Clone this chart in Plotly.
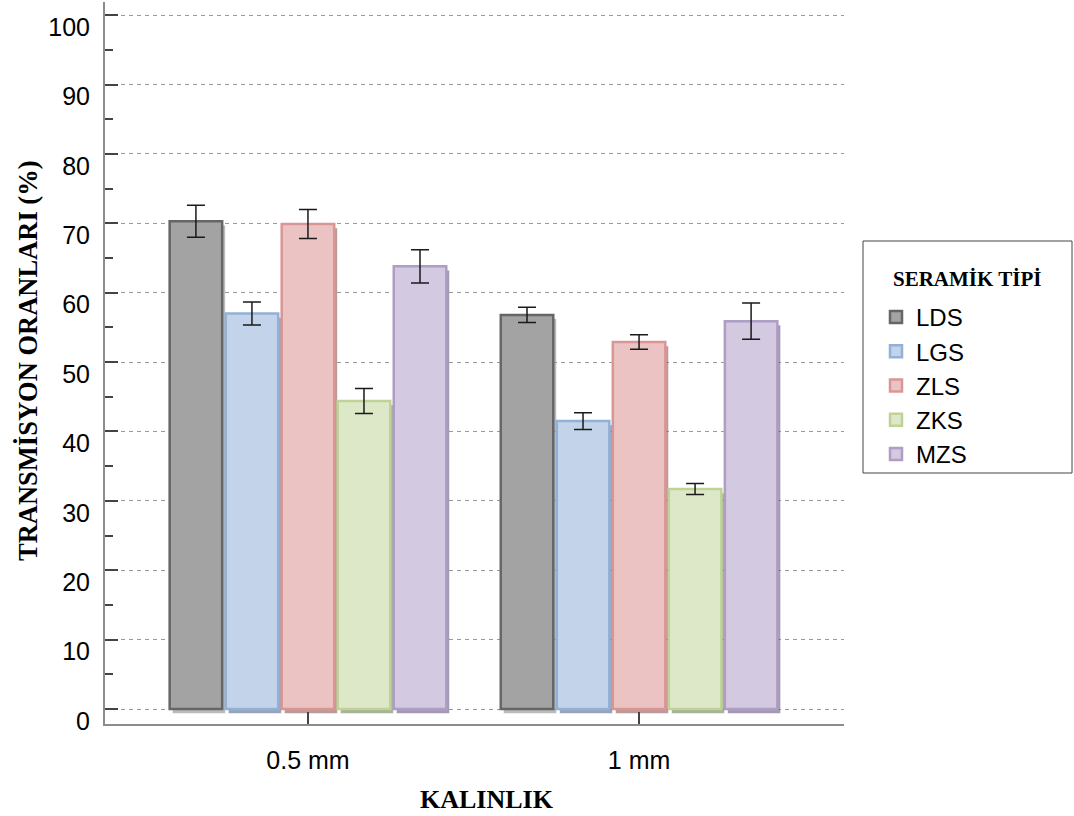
import plotly.graph_objects as go

# ---- data ----
categories = ["0.5 mm", "1 mm"]
series_names = ["LDS", "LGS", "ZLS", "ZKS", "MZS"]
LDS = [70.3, 56.8]
LGS = [57.0, 41.5]
ZLS = [69.9, 52.9]
ZKS = [44.4, 31.7]
MZS = [63.8, 55.9]
LDS_err = [2.3, 1.1]
LGS_err = [1.65, 1.2]
ZLS_err = [2.1, 1.05]
ZKS_err = [1.8, 0.8]
MZS_err = [2.4, 2.6]
y_ticks = [0, 10, 20, 30, 40, 50, 60, 70, 80, 90, 100]

values = [LDS, LGS, ZLS, ZKS, MZS]
errors = [LDS_err, LGS_err, ZLS_err, ZKS_err, MZS_err]

fills = ["#a3a3a3", "#c3d4ea", "#ebc3c2", "#dde8c8", "#d3c9e0"]
borders = ["#666666", "#93b1d6", "#d99694", "#bfd396", "#ae9dc4"]
shadows = ["rgba(150,150,150,0.65)", "rgba(95,115,150,0.65)", "rgba(150,100,100,0.65)",
           "rgba(120,140,95,0.65)", "rgba(115,100,140,0.65)"]

# geometry (data units)
x_pos = list(range(len(categories)))
slot = 0.1692
bar_w = 0.1586
sh_dx = 0.009   # shadow shift (~3 px)
sh_dy = 0.6     # shadow drop (~4 px)

fig = go.Figure()

# shadows first
for i, (name, vals) in enumerate(zip(series_names, values)):
    off = -2.5 * slot + i * slot + (slot - bar_w) / 2
    fig.add_trace(go.Bar(
        x=x_pos, y=vals, base=-sh_dy, width=bar_w, offset=off + sh_dx,
        marker=dict(color=shadows[i], line=dict(width=0)),
        showlegend=False, hoverinfo="skip",
    ))

for i, (name, vals, errs) in enumerate(zip(series_names, values, errors)):
    off = -2.5 * slot + i * slot + (slot - bar_w) / 2
    fig.add_trace(go.Bar(
        x=x_pos, y=vals, width=bar_w, offset=off, name=name,
        marker=dict(color=fills[i], line=dict(color=borders[i], width=2.5)),
        error_y=dict(type="data", array=errs, visible=True, color="#1a1a1a",
                     thickness=1.5, width=9),
    ))

L, R, T, B = 105, 230, 2, 92
W, H = 1074, 816
pw, ph = W - L - R, H - T - B


def px_x(px):
    return (px - L) / pw


def px_y(py):
    return (H - B - py) / ph


fig.update_layout(
    width=W, height=H,
    margin=dict(l=L, r=R, t=T, b=B),
    barmode="overlay",
    plot_bgcolor="white", paper_bgcolor="white",
    font=dict(family="Liberation Sans", size=25, color="black"),
    showlegend=True,
    legend=dict(
        x=px_x(876), y=px_y(295), xanchor="left", yanchor="top",
        borderwidth=0, bgcolor="rgba(0,0,0,0)",
        font=dict(family="Liberation Sans", size=24, color="black"),
    ),
    shapes=[
        dict(type="rect", xref="paper", yref="paper",
             x0=px_x(863), x1=px_x(1072), y0=px_y(473), y1=px_y(241),
             line=dict(color="#444444", width=1), fillcolor="white", layer="below"),
    ],
    annotations=[
        dict(text="<b>SERAMİK TİPİ</b>",
             xref="paper", yref="paper", x=px_x(967), y=px_y(279),
             showarrow=False, xanchor="center", yanchor="middle",
             font=dict(family="Liberation Serif", size=21, color="black")),
        dict(text="<b>TRANSMİSYON ORANLARI (%)</b>", textangle=-90,
             xref="paper", yref="paper", x=px_x(28), y=px_y(361),
             showarrow=False, xanchor="center", yanchor="middle",
             font=dict(family="Liberation Serif", size=26.5, color="black")),
        dict(text="<b>KALINLIK</b>",
             xref="paper", yref="paper", x=px_x(487), y=px_y(800),
             showarrow=False, xanchor="center", yanchor="middle",
             font=dict(family="Liberation Serif", size=26, color="black")),
    ],
)

fig.update_xaxes(
    range=[-0.613, 1.619], tickvals=x_pos, ticktext=categories,
    showline=True, linecolor="#8c8c8c", linewidth=2,
    ticks="inside", ticklen=12, tickcolor="#444444", tickwidth=1.5,
    showgrid=False, zeroline=False, ticklabelstandoff=13,
)
fig.update_yaxes(
    range=[-2.16, 101.9], tickvals=y_ticks,
    showline=True, linecolor="#8c8c8c", linewidth=2,
    ticks="inside", ticklen=13, tickcolor="#444444", tickwidth=1.5,
    showgrid=True, gridcolor="#9a9a9a", gridwidth=1, griddash="4px,4px",
    zeroline=False, ticklabelshift=12, ticklabelstandoff=8,
    minor=dict(ticks="inside", ticklen=8, tickcolor="#444444", dtick=5, tick0=0, showgrid=False),
)

fig.write_html("out.html", config={"displayModeBar": False},
               post_script="document.body.style.margin='0';")
